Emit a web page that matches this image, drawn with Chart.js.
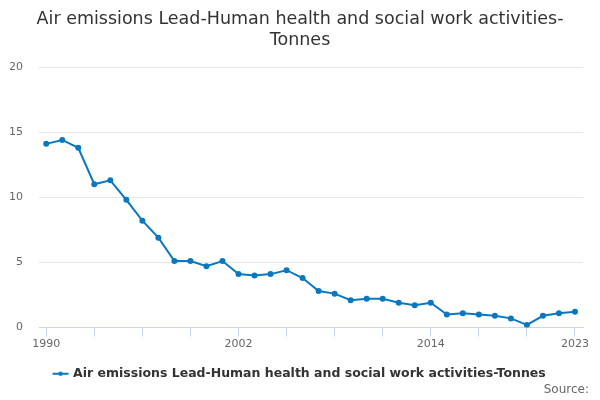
<!DOCTYPE html>
<html>
<head>
<meta charset="utf-8">
<script src="https://cdn.jsdelivr.net/npm/chart.js@4"></script>
<style>
  html, body { margin: 0; padding: 0; background: #fff; }
  #wrap { width: 600px; height: 400px; }
</style>
</head>
<body>
<div id="wrap"><canvas id="chart" width="600" height="400"></canvas></div>
<script>
const years = [1990, 1991, 1992, 1993, 1994, 1995, 1996, 1997, 1998, 1999,
  2000, 2001, 2002, 2003, 2004, 2005, 2006, 2007, 2008, 2009,
  2010, 2011, 2012, 2013, 2014, 2015, 2016, 2017, 2018, 2019,
  2020, 2021, 2022, 2023];
const values = [14.1, 14.4, 13.8, 11.0, 11.3, 9.8, 8.2, 6.9, 5.1, 5.1,
  4.7, 5.1, 4.1, 4.0, 4.1, 4.4, 3.8, 2.8, 2.6, 2.1,
  2.2, 2.2, 1.9, 1.7, 1.9, 1.0, 1.1, 1.0, 0.9, 0.7,
  0.2, 0.9, 1.1, 1.2];
const tickYears = [1990, 1993, 1996, 1999, 2002, 2005, 2008, 2011, 2014, 2017, 2020, 2023];
const labelYears = [1990, 2002, 2014, 2023];
const seriesName = 'Air emissions Lead-Human health and social work activities-Tonnes';
const sourceText = 'Source:';

const lineColor = '#0a78bf';
const font = "'DejaVu Sans', sans-serif";

// legend symbol: short line with a dot in the middle
function legendSymbol() {
  const c = document.createElement('canvas');
  c.width = 18; c.height = 8;
  const g = c.getContext('2d');
  g.strokeStyle = lineColor;
  g.lineWidth = 2;
  g.beginPath(); g.moveTo(1, 4); g.lineTo(17, 4); g.stroke();
  g.fillStyle = lineColor;
  g.beginPath(); g.arc(9, 4, 2.2, 0, Math.PI * 2); g.fill();
  return c;
}

// "Source:" credit in the bottom right corner
const sourcePlugin = {
  id: 'sourceCredit',
  afterDraw(chart) {
    const ctx = chart.ctx;
    ctx.save();
    ctx.font = '12px ' + font;
    ctx.fillStyle = '#666666';
    ctx.textAlign = 'right';
    ctx.textBaseline = 'middle';
    ctx.fillText(sourceText, chart.width - 11, chart.height - 10);
    ctx.restore();
  }
};

new Chart(document.getElementById('chart'), {
  type: 'line',
  data: {
    datasets: [{
      label: seriesName,
      data: years.map((y, i) => ({ x: y, y: values[i] })),
      borderColor: lineColor,
      backgroundColor: lineColor,
      borderWidth: 2,
      pointRadius: 2,
      pointHoverRadius: 4,
      tension: 0
    }]
  },
  plugins: [sourcePlugin],
  options: {
    responsive: false,
    animation: false,
    layout: { padding: { left: 0, right: 0, top: 8, bottom: 10 } },
    plugins: {
      title: {
        display: true,
        text: ['Air emissions Lead-Human health and social work activities-', 'Tonnes'],
        color: '#333333',
        font: { family: font, size: 17.5, weight: 'normal', lineHeight: 1.2 },
        padding: { top: 1, bottom: 16 }
      },
      legend: {
        position: 'bottom',
        labels: {
          color: '#333333',
          font: { family: font, size: 12.5, weight: 'bold' },
          usePointStyle: true,
          pointStyle: legendSymbol(),
          padding: 4
        }
      },
      tooltip: { enabled: true }
    },
    scales: {
      x: {
        type: 'linear',
        min: 1989.55,
        max: 2023.5,
        afterBuildTicks: (scale) => {
          scale.ticks = tickYears.map(v => ({ value: v }));
        },
        afterFit: (scale) => { scale.height = 36; },
        ticks: {
          autoSkip: false,
          maxRotation: 0,
          color: '#666666',
          font: { family: font, size: 11 },
          padding: 1,
          callback: (v) => labelYears.includes(v) ? String(v) : ''
        },
        grid: {
          drawOnChartArea: false,
          drawTicks: true,
          tickLength: 9,
          color: '#ccd6eb'
        },
        border: { display: true, color: '#ccd6eb', width: 1 }
      },
      y: {
        min: 0,
        max: 20,
        afterFit: (scale) => { scale.width = 39; },
        ticks: {
          stepSize: 5,
          color: '#666666',
          font: { family: font, size: 11 },
          padding: 16
        },
        grid: {
          color: '#e6e6e6',
          drawTicks: false
        },
        border: { display: false }
      },
      // empty right-hand spacer so the plot ends where the reference does
      spacer: {
        type: 'linear',
        position: 'right',
        afterFit: (scale) => { scale.width = 17; },
        ticks: { display: false },
        grid: { display: false },
        border: { display: false }
      }
    }
  }
});
</script>
</body>
</html>
